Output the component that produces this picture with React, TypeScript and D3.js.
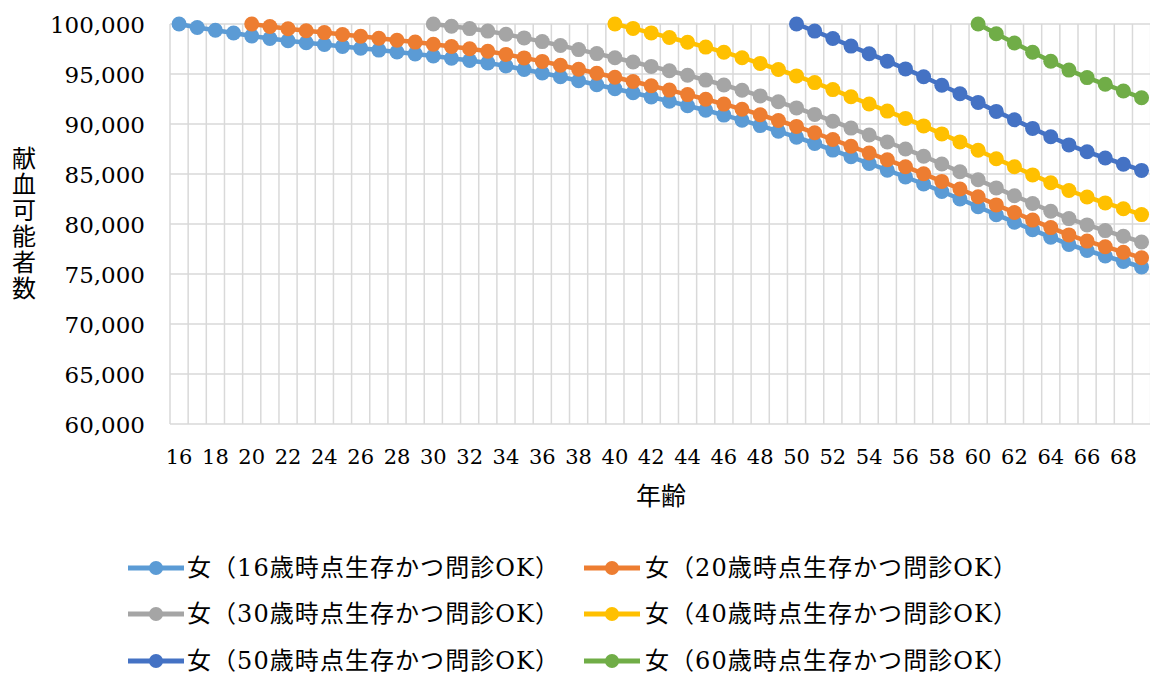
import React from 'react';
import * as d3 from 'd3';

const ages = [16,17,18,19,20,21,22,23,24,25,26,27,28,29,30,31,32,33,34,35,36,37,38,39,40,41,42,43,44,45,46,47,48,49,50,51,52,53,54,55,56,57,58,59,60,61,62,63,64,65,66,67,68,69];
const xTickLabels = [16,18,20,22,24,26,28,30,32,34,36,38,40,42,44,46,48,50,52,54,56,58,60,62,64,66,68];
const yTicks = [60000,65000,70000,75000,80000,85000,90000,95000,100000];

const seriesNames = [
  '女（16歳時点生存かつ問診OK）',
  '女（20歳時点生存かつ問診OK）',
  '女（30歳時点生存かつ問診OK）',
  '女（40歳時点生存かつ問診OK）',
  '女（50歳時点生存かつ問診OK）',
  '女（60歳時点生存かつ問診OK）',
];
const seriesColors = ['#5B9BD5', '#ED7D31', '#A5A5A5', '#FFC000', '#4472C4', '#70AD47'];
const seriesStartAge = [16, 20, 30, 40, 50, 60];

const female16 = [100000,99650,99380,99100,98800,98550,98330,98130,97950,97760,97580,97390,97200,97010,96800,96580,96350,96110,95800,95450,95100,94720,94320,93930,93530,93120,92700,92270,91830,91370,90890,90380,89840,89270,88680,88050,87390,86720,86050,85380,84700,84000,83250,82500,81730,80930,80180,79420,78680,77960,77350,76800,76250,75700];
const female20 = [100000,99750,99520,99320,99140,98950,98770,98570,98380,98190,97980,97750,97520,97280,96960,96610,96260,95870,95470,95070,94670,94250,93830,93390,92940,92480,91990,91480,90930,90350,89760,89120,88450,87770,87100,86420,85730,85020,84260,83500,82720,81910,81150,80390,79640,78910,78290,77730,77180,76620];
const female30 = [100000,99770,99540,99290,98970,98610,98240,97850,97440,97040,96620,96200,95760,95320,94870,94390,93900,93370,92810,92220,91610,90960,90280,89590,88900,88200,87500,86780,86000,85230,84430,83610,82830,82050,81280,80540,79910,79340,78770,78200];
const female40 = [100000,99560,99110,98650,98180,97690,97180,96630,96060,95450,94810,94140,93440,92720,92000,91290,90560,89810,89010,88210,87380,86530,85730,84910,84120,83350,82700,82110,81530,80940];
const female50 = [100000,99290,98550,97790,97030,96280,95510,94720,93880,93030,92160,91260,90420,89560,88720,87910,87220,86600,85980,85360];
const female60 = [100000,99020,98100,97170,96270,95390,94640,93970,93300,92620];

const seriesValues = [female16, female20, female30, female40, female50, female60];

const W = 1150;
const H = 677;
const LATIN = "'DejaVu Serif', 'Noto Sans CJK JP', serif";
const CJK = "'Noto Sans CJK JP', 'DejaVu Serif', sans-serif";
const yTitle = '献血可能者数';

export default function App() {
  const plotLeft = 170;
  const band = 18.16;
  const x = d3.scaleBand<number>().domain(ages).range([plotLeft, plotLeft + ages.length * band]).padding(0);
  const y = d3.scaleLinear().domain([60000, 100000]).range([424, 24]);
  const cx = (a: number) => (x(a) as number) + x.bandwidth() / 2;
  const fmt = d3.format(',');
  const plotRight = plotLeft + ages.length * band;

  const line = d3.line<[number, number]>().x(d => cx(d[0])).y(d => y(d[1]));

  const legendItems = seriesNames.map((name, i) => {
    const col = i % 2;
    const row = Math.floor(i / 2);
    return { name, color: seriesColors[i], x0: col === 0 ? 128 : 584, ty: [568, 614, 661][row], tx: col === 0 ? 187 : 645 };
  });

  return (
    <svg width={W} height={H} style={{ position: 'absolute', left: 0, top: 0, background: '#fff' }}>
      <rect x={0} y={0} width={W} height={H} fill="#fff" />
      {/* vertical gridlines */}
      {ages.map(a => (
        <line key={'v' + a} x1={x(a)} x2={x(a)} y1={y(100000)} y2={y(60000)} stroke="#d9d9d9" strokeWidth={1.5} />
      ))}
      <line x1={plotRight} x2={plotRight} y1={y(100000)} y2={y(60000)} stroke="#d9d9d9" strokeWidth={1.5} />
      {/* horizontal gridlines */}
      {yTicks.map(t => (
        <line key={'h' + t} x1={plotLeft} x2={plotRight} y1={y(t)} y2={y(t)} stroke="#d9d9d9" strokeWidth={1.5} />
      ))}
      {/* y tick labels */}
      {yTicks.map(t => (
        <text key={'yl' + t} x={145} y={y(t) + 9} textAnchor="end" fontFamily={LATIN} fontSize={23} fill="#000">{fmt(t)}</text>
      ))}
      {/* x tick labels */}
      {xTickLabels.map(a => (
        <text key={'xl' + a} x={cx(a)} y={464} textAnchor="middle" fontFamily={LATIN} fontSize={21} fill="#000">{a}</text>
      ))}
      {/* axis titles */}
      <text x={24} y={146} textAnchor="start" fontFamily={CJK} fontSize={24} fill="#000"
        style={{ writingMode: 'vertical-rl', textOrientation: 'upright', letterSpacing: '2px' } as any}>{yTitle}</text>
      <text x={661} y={494} textAnchor="middle" dominantBaseline="central" fontFamily={CJK} fontSize={25} fill="#000">年齢</text>
      {/* series */}
      {seriesValues.map((vals, i) => {
        const pts: [number, number][] = vals.map((v, j) => [seriesStartAge[i] + j, v]);
        return (
          <g key={'s' + i}>
            <path d={line(pts) || ''} fill="none" stroke={seriesColors[i]} strokeWidth={4.5} strokeLinejoin="round" />
            {pts.map(p => (
              <circle key={p[0]} cx={cx(p[0])} cy={y(p[1])} r={7.5} fill={seriesColors[i]} />
            ))}
          </g>
        );
      })}
      {/* legend */}
      {legendItems.map((it, i) => (
        <g key={'lg' + i}>
          <line x1={it.x0} x2={it.x0 + 56} y1={it.ty} y2={it.ty} stroke={it.color} strokeWidth={5} />
          <circle cx={it.x0 + 28} cy={it.ty} r={7} fill={it.color} />
          <text x={it.tx} y={it.ty} dominantBaseline="central" fontFamily={LATIN} fontSize={24} fill="#000" textLength={372} lengthAdjust="spacing">{it.name}</text>
        </g>
      ))}
    </svg>
  );
}
